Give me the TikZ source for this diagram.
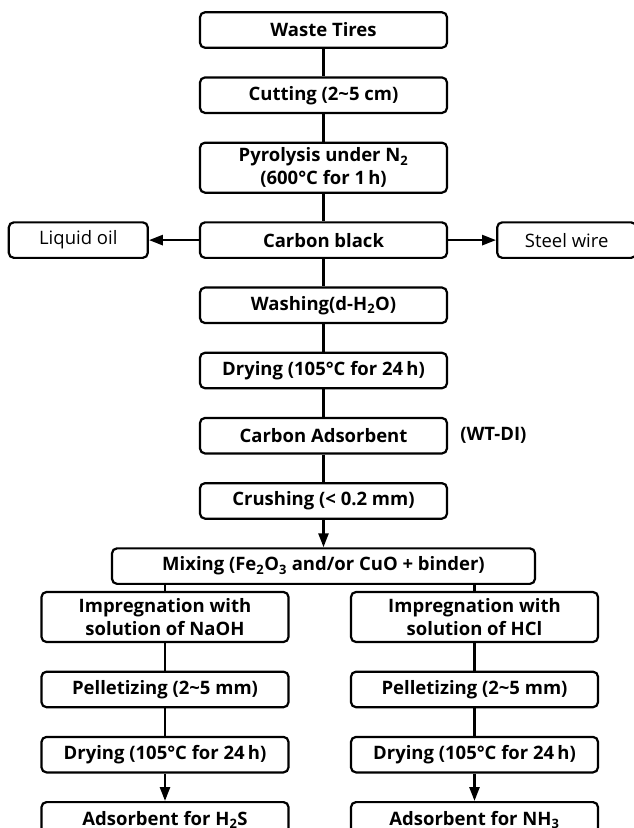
\documentclass[tikz,border=0pt]{standalone}
\usepackage{fontspec}
\setmainfont{Open Sans}
\usetikzlibrary{positioning,arrows.meta}

\begin{document}
\begin{tikzpicture}[x=1pt, y=1pt, node distance=27.5pt,
	stepbox/.style={draw, rounded corners=5pt, line width=2.2pt, minimum width=247pt,
		minimum height=35.5pt, inner sep=2pt, align=center,
		font=\bfseries\fontsize{18.5}{23}\selectfont},
	tallbox/.style={stepbox, minimum height=50pt},
	sidebox/.style={stepbox, minimum width=139pt, font=\fontsize{18.5}{23}\selectfont},
	link/.style={line width=2.6pt},
	flow/.style={link, -{Triangle[length=14pt,width=10pt]}}]
\useasboundingbox (0,0) rectangle (634,-828);
% main line
\node[stepbox] (tires) at (323.5,-30) {Waste Tires};
\node[stepbox, below=of tires] (cut) {Cutting (2\textasciitilde5 cm)};
\node[tallbox, below=of cut] (pyro) {Pyrolysis under N\textsubscript{2}\\(600°C for 1\,h)};
\node[stepbox, below=of pyro] (black) {Carbon black};
\node[sidebox, left=50pt of black] (oil) {Liquid oil};
\node[sidebox, right=48pt of black] (wire) {Steel wire};
\node[stepbox, below=of black] (wash) {Washing(d-H\textsubscript{2}O)};
\node[stepbox, below=of wash] (dry) {Drying (105°C for 24\,h)};
\node[stepbox, below=of dry] (cads) {Carbon Adsorbent};
\node[right=12pt of cads, inner sep=0pt, font=\bfseries\fontsize{18.5}{23}\selectfont] (wtdi) {(WT-DI)};
\node[stepbox, below=of cads] (crush) {Crushing (< 0.2 mm)};
\node[stepbox, below=of crush, minimum width=423pt] (mix) {Mixing (Fe\textsubscript{2}O\textsubscript{3} and/or CuO + binder)};
% two branches
\node[tallbox] (impA) at (165,-617) {Impregnation with\\solution of NaOH};
\node[stepbox, below=of impA] (pelA) {Pelletizing (2\textasciitilde5 mm)};
\node[stepbox, below=of pelA] (dryA) {Drying (105°C for 24\,h)};
\node[stepbox, below=of dryA] (h2s) {Adsorbent for H\textsubscript{2}S};
\node[tallbox] (impB) at (474.5,-617) {Impregnation with\\solution of HCl};
\node[stepbox, below=of impB] (pelB) {Pelletizing (2\textasciitilde5 mm)};
\node[stepbox, below=of pelB] (dryB) {Drying (105°C for 24\,h)};
\node[stepbox, below=of dryB] (nh3) {Adsorbent for NH\textsubscript{3}};
% connectors
\draw[link] (tires) -- (cut);
\draw[link] (cut) -- (pyro);
\draw[link] (pyro) -- (black);
\draw[flow] (black) -- (oil);
\draw[flow] (black) -- (wire);
\draw[link] (black) -- (wash);
\draw[link] (wash) -- (dry);
\draw[link] (dry) -- (cads);
\draw[link] (cads) -- (crush);
\draw[flow] (crush) -- (mix);
\draw[link] (mix.south -| impA) -- (impA);
\draw[link] (mix.south -| impB) -- (impB);
\draw[link] (impA) -- (pelA);
\draw[link] (pelA) -- (dryA);
\draw[flow] (dryA) -- (h2s);
\draw[link] (impB) -- (pelB);
\draw[link] (pelB) -- (dryB);
\draw[flow] (dryB) -- (nh3);
\end{tikzpicture}
\end{document}
